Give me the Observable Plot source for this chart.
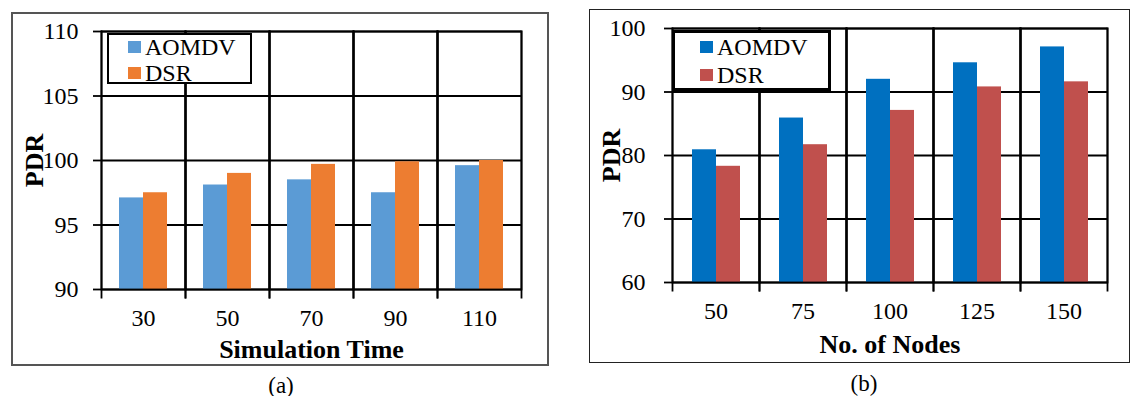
<!DOCTYPE html>
<html>
<head>
<meta charset="utf-8">
<script src="https://cdn.jsdelivr.net/npm/d3@7"></script>
<script src="https://cdn.jsdelivr.net/npm/@observablehq/plot@0.6"></script>
<style>
  html, body { margin: 0; padding: 0; background: #fff; }
  #wrap { position: relative; width: 1131px; height: 396px; overflow: hidden; font-family: 'Liberation Serif', 'Times New Roman', serif; color: #000; }
  .frame { position: absolute; box-sizing: border-box; }
  .chart { position: absolute; }
  .legend { position: absolute; box-sizing: border-box; background: #fff; border: 2px solid #000; font-size: 24px; }
  .legend .item { position: absolute; white-space: nowrap; line-height: 26px; height: 26px; }
  .legend .sw { position: absolute; width: 13px; height: 12px; }
  .caption { position: absolute; font-size: 23px; line-height: 1; transform: translate(-50%, -50%); white-space: nowrap; }
  [aria-label="y-axis label"], [aria-label="fx-axis label"] { font-weight: bold; font-size: 26px; }
</style>
</head>
<body>
<div id="wrap"></div>
<script>
// ---- data ----
const seriesNames = ["AOMDV", "DSR"];

const simTimes = [30, 50, 70, 90, 110];
const aomdvByTime = [97.1, 98.1, 98.5, 97.5, 99.6];
const dsrByTime = [97.5, 99.0, 99.7, 99.9, 100.0];
const yTicksA = [90, 95, 100, 105, 110];

const nodeCounts = [50, 75, 100, 125, 150];
const aomdvByNodes = [80.9, 85.9, 92.0, 94.6, 97.1];
const dsrByNodes = [78.3, 81.7, 87.1, 90.8, 91.6];
const yTicksB = [60, 70, 80, 90, 100];

const colorsA = ["#5B9BD5", "#ED7D31"];
const colorsB = ["#0070C0", "#C0504D"];

const wrap = document.getElementById("wrap");

function makeRows(cats, a, b) {
  return cats.flatMap((c, i) => [
    {cat: c, series: seriesNames[0], value: a[i]},
    {cat: c, series: seriesNames[1], value: b[i]}
  ]);
}

function addDiv(cls, css, text) {
  const d = document.createElement("div");
  d.className = cls;
  Object.assign(d.style, css);
  if (text != null) d.textContent = text;
  wrap.appendChild(d);
  return d;
}

function chart(o) {
  const rows = makeRows(o.cats, o.a, o.b);
  const yDomain = [o.ticks[0], o.ticks[o.ticks.length - 1]];
  const svg = Plot.plot({
    width: o.width, height: o.height,
    marginLeft: o.ml, marginRight: o.mr, marginTop: o.mt, marginBottom: o.mb,
    style: {fontFamily: "'Liberation Serif', 'Times New Roman', serif", fontSize: "24px", color: "#000", background: "transparent", overflow: "visible"},
    fx: {domain: o.cats, padding: 0, axis: null, label: null},
    x: {domain: seriesNames, paddingInner: 0, paddingOuter: o.po, axis: null},
    y: {domain: yDomain, axis: null},
    color: {domain: seriesNames, range: o.colors},
    marks: [
      Plot.gridY(o.ticks, {stroke: "#000", strokeOpacity: 1, strokeWidth: 1.8}),
      Plot.barY(rows, {fx: "cat", x: "series", y1: yDomain[0], y2: "value", fill: "series"}),
      Plot.frame({stroke: "#000", strokeWidth: 1.8}),
      Plot.frame({anchor: "left", insetBottom: -8, stroke: "#000", strokeWidth: 1.8}),
      Plot.frame({anchor: "right", insetBottom: -8, stroke: "#000", strokeWidth: 1.8}),
      Plot.axisY(o.ticks, {tickSize: 8, tickPadding: o.ytp, strokeWidth: 1.8, label: "PDR", labelAnchor: "center", labelArrow: "none", labelOffset: o.ylo}),
      Plot.axisFx({anchor: "bottom", tickSize: 0, tickPadding: 19, label: o.xLabel, labelAnchor: "center", labelArrow: "none", labelOffset: o.xlo})
    ]
  });
  svg.classList.add("chart");
  svg.style.left = o.left + "px";
  svg.style.top = o.top + "px";
  wrap.appendChild(svg);

  // legend (page coordinates)
  const lg = addDiv("legend", {left: o.lg.left + "px", top: o.lg.top + "px", width: o.lg.w + "px", height: o.lg.h + "px", borderWidth: o.lg.bw + "px"});
  seriesNames.forEach((s, i) => {
    const sw = document.createElement("div");
    sw.className = "sw";
    sw.style.background = o.colors[i];
    sw.style.left = o.lg.swx + "px";
    sw.style.top = (o.lg.rows[i] - 6) + "px";
    lg.appendChild(sw);
    const it = document.createElement("div");
    it.className = "item";
    it.textContent = s;
    it.style.left = o.lg.tx + "px";
    it.style.top = (o.lg.rows[i] - 13) + "px";
    lg.appendChild(it);
  });
}

// panel frames
addDiv("frame", {left: "11px", top: "12px", width: "538px", height: "354px", border: "2px solid #555"});
addDiv("frame", {left: "589px", top: "9px", width: "541px", height: "354px", border: "1.5px solid #222"});

chart({
  cats: simTimes, a: aomdvByTime, b: dsrByTime, ticks: yTicksA, colors: colorsA,
  xLabel: "Simulation Time",
  left: 11, top: 12, width: 537, height: 353,
  ml: 89, mr: 26, mt: 19, mb: 76, po: 0.72, ytp: 15, ylo: 77, xlo: 68,
  lg: {left: 107, top: 33, w: 145, h: 51, bw: 2, swx: 19, tx: 36, rows: [12, 38]}
});

chart({
  cats: nodeCounts, a: aomdvByNodes, b: dsrByNodes, ticks: yTicksB, colors: colorsB,
  xLabel: "No. of Nodes",
  left: 589, top: 9, width: 542, height: 353,
  ml: 81, mr: 22, mt: 19, mb: 80, po: 0.76, ytp: 19, ylo: 71, xlo: 70,
  lg: {left: 672, top: 30, w: 159, h: 61, bw: 3, swx: 25, tx: 42, rows: [14, 42]}
});

addDiv("caption", {left: "281px", top: "385px"}, "(a)");
addDiv("caption", {left: "864px", top: "383px"}, "(b)");
</script>
</body>
</html>
